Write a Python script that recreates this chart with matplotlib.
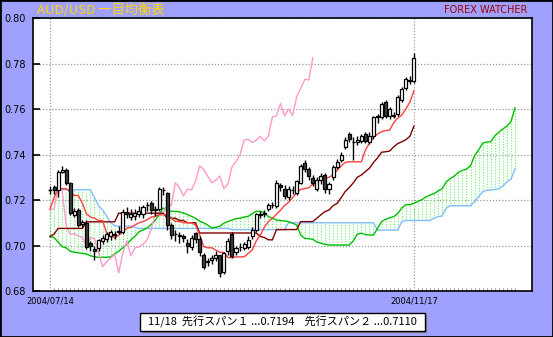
import matplotlib
matplotlib.use('Agg')
import matplotlib.pyplot as plt
from matplotlib.patches import Rectangle

# ------------------------------------------------------------
# AUD/USD daily, 2004/07/14 .. 2004/11/17 (91 sessions)
# ------------------------------------------------------------
DATE_LABELS = ["2004/07/14", "2004/11/17"]
DATE_POS = [0, 90]
NEXT_DAY = "11/18"

opens = [0.7243, 0.7258, 0.7244, 0.7325, 0.7330, 0.7275, 0.7135, 0.7155, 0.7095, 0.7100,
         0.7010, 0.6985, 0.6990, 0.7020, 0.7030, 0.7040, 0.7052, 0.7060, 0.7060, 0.7148,
         0.7125, 0.7128, 0.7140, 0.7140, 0.7178, 0.7185, 0.7158, 0.7160, 0.7245, 0.7230,
         0.7090, 0.7050, 0.7048, 0.7040, 0.7010, 0.6995, 0.7053, 0.7030, 0.6958, 0.6930,
         0.6935, 0.6945, 0.6958, 0.6882, 0.6975, 0.7050, 0.6970, 0.6995, 0.6990, 0.6995,
         0.7040, 0.7070, 0.7135, 0.7140, 0.7160, 0.7178, 0.7173, 0.7265, 0.7247, 0.7215,
         0.7242, 0.7230, 0.7276, 0.7364, 0.7335, 0.7298, 0.7250, 0.7290, 0.7310, 0.7250,
         0.7300, 0.7345, 0.7375, 0.7434, 0.7488, 0.7457, 0.7455, 0.7460, 0.7490, 0.7455,
         0.7480, 0.7565, 0.7565, 0.7630, 0.7570, 0.7570, 0.7580, 0.7640, 0.7693, 0.7722,
         0.7722]
closes = [0.7245, 0.7244, 0.7325, 0.7332, 0.7275, 0.7145, 0.7150, 0.7090, 0.7102, 0.6995,
          0.6998, 0.6978, 0.7024, 0.7035, 0.7050, 0.7060, 0.7048, 0.7065, 0.7148, 0.7140,
          0.7140, 0.7145, 0.7150, 0.7170, 0.7180, 0.7156, 0.7162, 0.7250, 0.7243, 0.7090,
          0.7048, 0.7052, 0.7042, 0.7035, 0.7000, 0.7035, 0.7030, 0.6970, 0.6907, 0.6928,
          0.6945, 0.6960, 0.6880, 0.6966, 0.7020, 0.6955, 0.6990, 0.6993, 0.7005, 0.7025,
          0.7070, 0.7137, 0.7137, 0.7142, 0.7180, 0.7176, 0.7276, 0.7255, 0.7218, 0.7247,
          0.7245, 0.7283, 0.7350, 0.7335, 0.7305, 0.7276, 0.7287, 0.7305, 0.7250, 0.7270,
          0.7345, 0.7368, 0.7400, 0.7463, 0.7467, 0.7453, 0.7462, 0.7480, 0.7460, 0.7480,
          0.7565, 0.7570, 0.7624, 0.7570, 0.7600, 0.7572, 0.7653, 0.7690, 0.7730, 0.7728,
          0.7825]
highs = [0.7262, 0.7265, 0.7330, 0.7350, 0.7340, 0.7280, 0.7165, 0.7165, 0.7112, 0.7110,
         0.7020, 0.7000, 0.7030, 0.7045, 0.7060, 0.7070, 0.7065, 0.7085, 0.7160, 0.7170,
         0.7160, 0.7160, 0.7175, 0.7180, 0.7190, 0.7195, 0.7175, 0.7258, 0.7255, 0.7235,
         0.7100, 0.7070, 0.7060, 0.7050, 0.7030, 0.7045, 0.7060, 0.7040, 0.6965, 0.6945,
         0.6960, 0.6975, 0.6960, 0.6970, 0.7035, 0.7060, 0.7000, 0.7010, 0.7015, 0.7040,
         0.7080, 0.7145, 0.7150, 0.7155, 0.7185, 0.7190, 0.7290, 0.7275, 0.7265, 0.7260,
         0.7260, 0.7290, 0.7360, 0.7375, 0.7345, 0.7310, 0.7300, 0.7320, 0.7320, 0.7280,
         0.7355, 0.7380, 0.7410, 0.7475, 0.7500, 0.7475, 0.7480, 0.7490, 0.7500, 0.7500,
         0.7570, 0.7580, 0.7630, 0.7640, 0.7610, 0.7585, 0.7660, 0.7695, 0.7740, 0.7745,
         0.7844]
lows = [0.7228, 0.7225, 0.7215, 0.7318, 0.7265, 0.7135, 0.7125, 0.7080, 0.7080, 0.6985,
        0.6975, 0.6935, 0.6975, 0.7005, 0.7015, 0.7025, 0.7030, 0.7050, 0.7050, 0.7120,
        0.7110, 0.7110, 0.7125, 0.7120, 0.7150, 0.7140, 0.7130, 0.7150, 0.7220, 0.7070,
        0.7030, 0.7020, 0.7010, 0.7015, 0.6965, 0.6980, 0.7010, 0.6955, 0.6895, 0.6910,
        0.6920, 0.6930, 0.6860, 0.6875, 0.6960, 0.6945, 0.6960, 0.6975, 0.6980, 0.6985,
        0.7030, 0.7060, 0.7120, 0.7125, 0.7150, 0.7165, 0.7165, 0.7240, 0.7205, 0.7200,
        0.7225, 0.7220, 0.7270, 0.7325, 0.7290, 0.7260, 0.7240, 0.7270, 0.7230, 0.7225,
        0.7290, 0.7335, 0.7365, 0.7425, 0.7455, 0.7375, 0.7440, 0.7450, 0.7450, 0.7445,
        0.7470, 0.7540, 0.7555, 0.7560, 0.7555, 0.7560, 0.7570, 0.7630, 0.7685, 0.7710,
        0.7715]

# 転換線 (red) / 基準線 (dark red)
tenkan = [0.7160, 0.7210, 0.7250, 0.7250, 0.7250, 0.7235, 0.7220, 0.7220, 0.7186, 0.7140,
          0.7125, 0.7120, 0.7110, 0.7110, 0.7055, 0.7045, 0.7033, 0.7045, 0.7060, 0.7076,
          0.7080, 0.7090, 0.7100, 0.7105, 0.7113, 0.7125, 0.7128, 0.7135, 0.7135, 0.7135,
          0.7120, 0.7106, 0.7106, 0.7100, 0.7100, 0.7100, 0.7090, 0.7047, 0.6995, 0.6990,
          0.6990, 0.6980, 0.6970, 0.6970, 0.6947, 0.6947, 0.6950, 0.6950, 0.6950, 0.6965,
          0.6980, 0.7020, 0.7045, 0.7080, 0.7105, 0.7120, 0.7137, 0.7155, 0.7175, 0.7190,
          0.7210, 0.7232, 0.7247, 0.7250, 0.7254, 0.7270, 0.7280, 0.7290, 0.7295, 0.7300,
          0.7310, 0.7330, 0.7350, 0.7365, 0.7368, 0.7368, 0.7368, 0.7368, 0.7420, 0.7450,
          0.7475, 0.7490, 0.7500, 0.7505, 0.7507, 0.7540, 0.7560, 0.7573, 0.7600, 0.7630,
          0.7680]
kijun = [0.7039, 0.7050, 0.7075, 0.7075, 0.7075, 0.7075, 0.7075, 0.7075, 0.7075, 0.7104,
         0.7104, 0.7104, 0.7104, 0.7104, 0.7104, 0.7104, 0.7104, 0.7142, 0.7142, 0.7142,
         0.7142, 0.7142, 0.7142, 0.7142, 0.7142, 0.7142, 0.7142, 0.7142, 0.7142, 0.7120,
         0.7120, 0.7120, 0.7110, 0.7110, 0.7100, 0.7100, 0.7100, 0.7055, 0.7055, 0.7055,
         0.7055, 0.7055, 0.7055, 0.7055, 0.7055, 0.7055, 0.7055, 0.7055, 0.7055, 0.7055,
         0.7055, 0.7055, 0.7040, 0.7035, 0.7025, 0.7025, 0.7070, 0.7070, 0.7070, 0.7070,
         0.7070, 0.7070, 0.7105, 0.7105, 0.7105, 0.7105, 0.7120, 0.7135, 0.7149, 0.7156,
         0.7175, 0.7185, 0.7210, 0.7237, 0.7255, 0.7275, 0.7300, 0.7310, 0.7325, 0.7340,
         0.7365, 0.7385, 0.7410, 0.7412, 0.7415, 0.7434, 0.7448, 0.7456, 0.7465, 0.7480,
         0.7525]

# 先行スパン１ (green) / 先行スパン２ (blue), run 25 sessions ahead
span1 = [0.7040, 0.7035, 0.7015, 0.6995, 0.6990, 0.6975, 0.6970, 0.6968, 0.6965, 0.6963,
         0.6955, 0.6950, 0.6948, 0.6948, 0.6948, 0.6950, 0.6963, 0.6975, 0.6990, 0.7005,
         0.7025, 0.7040, 0.7060, 0.7068, 0.7077, 0.7092, 0.7110, 0.7136, 0.7165, 0.7157,
         0.7150, 0.7150, 0.7148, 0.7143, 0.7136, 0.7128, 0.7120, 0.7107, 0.7100, 0.7090,
         0.7077, 0.7080, 0.7085, 0.7098, 0.7105, 0.7112, 0.7118, 0.7120, 0.7125, 0.7128,
         0.7140, 0.7150, 0.7150, 0.7145, 0.7127, 0.7120, 0.7112, 0.7110, 0.7108, 0.7105,
         0.7098, 0.7090, 0.7046, 0.7031, 0.7030, 0.7027, 0.7015, 0.7010, 0.7005, 0.7002,
         0.7002, 0.7002, 0.7002, 0.7002, 0.7002, 0.7020, 0.7050, 0.7054, 0.7048, 0.7046,
         0.7046, 0.7075, 0.7105, 0.7115, 0.7122, 0.7127, 0.7140, 0.7165, 0.7180, 0.7180,
         0.7185, 0.7194, 0.7202, 0.7214, 0.7222, 0.7228, 0.7240, 0.7250, 0.7280, 0.7295,
         0.7305, 0.7322, 0.7330, 0.7336, 0.7350, 0.7395, 0.7420, 0.7450, 0.7455, 0.7456,
         0.7482, 0.7498, 0.7512, 0.7525, 0.7545, 0.7605]
span2 = [0.7245, 0.7245, 0.7245, 0.7245, 0.7245, 0.7245, 0.7245, 0.7245, 0.7245, 0.7245,
         0.7245, 0.7210, 0.7175, 0.7156, 0.7130, 0.7100, 0.7088, 0.7085, 0.7085, 0.7085,
         0.7085, 0.7080, 0.7075, 0.7075, 0.7075, 0.7075, 0.7075, 0.7075, 0.7075, 0.7075,
         0.7075, 0.7075, 0.7075, 0.7075, 0.7075, 0.7075, 0.7075, 0.7075, 0.7075, 0.7075,
         0.7075, 0.7075, 0.7075, 0.7075, 0.7075, 0.7070, 0.7070, 0.7070, 0.7070, 0.7070,
         0.7070, 0.7070, 0.7070, 0.7070, 0.7070, 0.7070, 0.7070, 0.7070, 0.7070, 0.7100,
         0.7100, 0.7100, 0.7100, 0.7100, 0.7100, 0.7100, 0.7100, 0.7100, 0.7100, 0.7100,
         0.7100, 0.7100, 0.7100, 0.7100, 0.7100, 0.7100, 0.7100, 0.7100, 0.7100, 0.7100,
         0.7100, 0.7068, 0.7068, 0.7068, 0.7068, 0.7068, 0.7068, 0.7105, 0.7110, 0.7110,
         0.7110, 0.7110, 0.7110, 0.7110, 0.7110, 0.7120, 0.7127, 0.7130, 0.7165, 0.7175,
         0.7175, 0.7175, 0.7175, 0.7175, 0.7175, 0.7193, 0.7215, 0.7237, 0.7242, 0.7244,
         0.7246, 0.7250, 0.7262, 0.7280, 0.7292, 0.7336]

LAG = 25          # chikou span drawn LAG sessions back
NEXT_IDX = 91     # index of 11/18 on the span arrays

W, H = 553, 337
BG = "#a0a0ff"
FONT = ["Noto Sans CJK JP", "DejaVu Sans"]


def fx(px):
    return px / W


def fy(py):
    return 1 - py / H


fig = plt.figure(figsize=(W / 100, H / 100), dpi=100, facecolor=BG)
ax = fig.add_axes([fx(33), fy(291), fx(532) - fx(33), fy(18) - fy(291)])
ax.set_facecolor("white")

n = len(closes)
idx = list(range(n))
sidx = list(range(len(span1)))

# cloud: dotted vertical hatching between the two leading spans
ax.vlines(sidx, [min(a, b) for a, b in zip(span1, span2)],
          [max(a, b) for a, b in zip(span1, span2)],
          colors="#80f080", linestyles=(0, (1, 1.2)), linewidth=0.9, zorder=1)
ax.plot(sidx, span2, color="#80c0ff", lw=1.0, zorder=2)
ax.plot(sidx, span1, color="#00c000", lw=1.0, zorder=2)

# chikou span
chikou = closes[LAG:]
ax.plot(list(range(len(chikou))), chikou, color="#ff99cc", lw=1.0, zorder=2)

ax.plot(idx, kijun, color="#800000", lw=1.0, zorder=3)
ax.plot(idx, tenkan, color="#ff4040", lw=1.0, zorder=3)

# candles
ax.vlines(idx, lows, highs, colors="black", linewidth=1.0, zorder=4)
bottoms = [min(o, c) for o, c in zip(opens, closes)]
heights = [max(abs(c - o), 0.00005) for o, c in zip(opens, closes)]
fills = ["white" if c >= o else "#404040" for o, c in zip(opens, closes)]
ax.bar(idx, heights, bottom=bottoms, width=0.75, color=fills,
       edgecolor="black", linewidth=0.9, zorder=5)

# axes
ax.set_xlim(-4.2, 119.2)
ax.set_ylim(0.68, 0.80)
yt = [0.68, 0.70, 0.72, 0.74, 0.76, 0.78, 0.80]
ax.set_yticks(yt)
ax.set_yticklabels([f"{v:.2f}" for v in yt])
ax.set_xticks(DATE_POS)
ax.set_xticklabels(DATE_LABELS)
ax.set_xticks(sidx, minor=True)
ax.tick_params(axis="y", direction="in", length=5, width=1.2, color="black",
               labelsize=7, pad=5)
ax.tick_params(axis="x", which="major", length=0, labelsize=6, pad=4)
ax.tick_params(axis="x", which="minor", direction="in", length=2.5, width=0.8,
               color="#999999")
ax.grid(True, which="major", linestyle=(0, (1, 1.5)), color="#999999", lw=0.9)
ax.set_axisbelow(True)
for s in ax.spines.values():
    s.set_linewidth(1.2)
    s.set_color("black")

# header texts
fig.text(fx(37), fy(10), "AUD/USD 一目均衡表", color="#ffd800", fontsize=9.5,
         family=FONT, ha="left", va="center")
fig.text(fx(527), fy(10), "FOREX WATCHER", color="#a00000", fontsize=7,
         ha="right", va="center")

# info box with shadow
fig.patches.append(Rectangle((fx(142), fy(333)), fx(285), fy(313) - fy(331),
                             transform=fig.transFigure, facecolor="#808080",
                             edgecolor="none", zorder=1))
fig.patches.append(Rectangle((fx(140), fy(331)), fx(285), fy(313) - fy(331),
                             transform=fig.transFigure, facecolor="white",
                             edgecolor="black", lw=1.0, zorder=2))
info = (f"{NEXT_DAY}  先行スパン１ ...{span1[NEXT_IDX]:.4f}    "
        f"先行スパン２ ...{span2[NEXT_IDX]:.4f}")
fig.text(fx(282), fy(322), info, fontsize=8, family=FONT,
         ha="center", va="center", zorder=3)

# outer frame
fig.patches.append(Rectangle((0, 0), 1, 1, transform=fig.transFigure,
                             fill=False, edgecolor="black", lw=2))

fig.savefig("out.png", dpi=100, facecolor=BG)
